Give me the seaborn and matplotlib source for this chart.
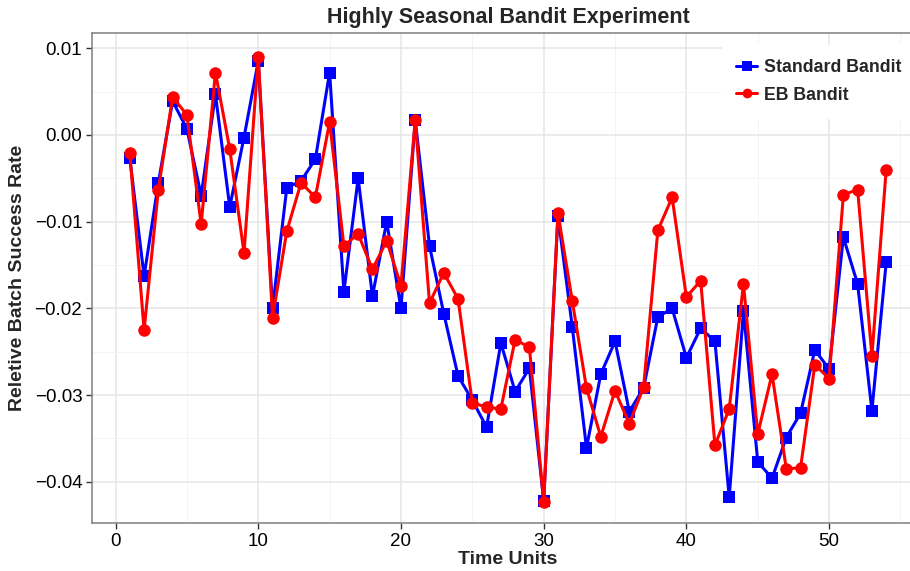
import numpy as np
import pandas as pd
import matplotlib
matplotlib.use("Agg")
import matplotlib.pyplot as plt
import seaborn as sns
from matplotlib.ticker import MultipleLocator, FuncFormatter

time_units = list(range(1, 55))
standard_bandit = [
    -0.0027, -0.0163, -0.0055, 0.0039, 0.0007, -0.0070, 0.0047, -0.0083, -0.0003, 0.0085,
    -0.0200, -0.0061, -0.0053, -0.0028, 0.0072, -0.0181, -0.0050, -0.0186, -0.0100, -0.0200,
    0.0017, -0.0128, -0.0206, -0.0278, -0.0306, -0.0337, -0.0240, -0.0296, -0.0269, -0.0422,
    -0.0093, -0.0221, -0.0361, -0.0276, -0.0238, -0.0319, -0.0292, -0.0210, -0.0200, -0.0257,
    -0.0223, -0.0238, -0.0418, -0.0203, -0.0377, -0.0396, -0.0349, -0.0321, -0.0248, -0.0270,
    -0.0118, -0.0172, -0.0318, -0.0147,
]
eb_bandit = [
    -0.0021, -0.0225, -0.0063, 0.0044, 0.0023, -0.0103, 0.0072, -0.0016, -0.0136, 0.0090,
    -0.0211, -0.0111, -0.0055, -0.0072, 0.0015, -0.0128, -0.0114, -0.0155, -0.0122, -0.0174,
    0.0017, -0.0194, -0.0159, -0.0189, -0.0309, -0.0314, -0.0316, -0.0236, -0.0245, -0.0423,
    -0.0090, -0.0191, -0.0292, -0.0348, -0.0295, -0.0333, -0.0291, -0.0110, -0.0072, -0.0187,
    -0.0168, -0.0358, -0.0316, -0.0172, -0.0345, -0.0276, -0.0385, -0.0384, -0.0265, -0.0281,
    -0.0069, -0.0063, -0.0255, -0.0040,
]

df = pd.DataFrame({
    "time": time_units * 2,
    "rate": standard_bandit + eb_bandit,
    "method": ["Standard Bandit"] * len(time_units) + ["EB Bandit"] * len(time_units),
})

sns.set_theme(style="white")
plt.rcParams["font.family"] = ["Liberation Sans", "DejaVu Sans"]

fig = plt.figure(figsize=(9.1, 5.71), dpi=100)
# panel runs past the right edge of the figure (cropped like the original)
ax = fig.add_axes([92 / 910, 48 / 571, 832 / 910, 490 / 571])

# gridlines like ggplot theme_bw
ax.xaxis.set_major_locator(MultipleLocator(10))
ax.xaxis.set_minor_locator(MultipleLocator(5))
ax.yaxis.set_major_locator(MultipleLocator(0.01))
ax.yaxis.set_minor_locator(MultipleLocator(0.005))
ax.grid(which="major", color="#E5E5E5", linewidth=1.1)
ax.grid(which="minor", color="#F2F2F2", linewidth=0.6)
ax.set_axisbelow(True)

sns.lineplot(data=df, x="time", y="rate", hue="method", style="method",
             markers={"Standard Bandit": "s", "EB Bandit": "o"}, dashes=False,
             palette={"Standard Bandit": "#0000FF", "EB Bandit": "#FF0000"},
             linewidth=2.2, markersize=9, markeredgewidth=0, ax=ax)

ax.set_xlim(-1.65, 56.65)
ax.set_ylim(-0.04476, 0.01176)

ax.yaxis.set_major_formatter(FuncFormatter(lambda v, p: f"{v:.2f}".replace("-", "\u2212") if abs(v) > 1e-9 else "0.00"))

for side in ["left", "bottom", "top", "right"]:
    ax.spines[side].set_color("#7F7F7F")
    ax.spines[side].set_linewidth(1.1)

ax.tick_params(axis="both", which="major", length=4, width=1, color="#333333",
               labelsize=13.5, labelcolor="black", bottom=True, left=True, direction="out", pad=3)
ax.tick_params(axis="both", which="minor", length=0)

ax.set_title("Highly Seasonal Bandit Experiment", fontsize=15.5, fontweight="bold", pad=7)
ax.set_xlabel("Time Units", fontsize=14, fontweight="bold", labelpad=1)
ax.set_ylabel("Reletive Batch Success Rate", fontsize=14, fontweight="bold", labelpad=6)

leg = ax.legend(loc="upper left", bbox_to_anchor=(727 / 910, 1 - 50 / 571),
                bbox_transform=fig.transFigure, frameon=True, handlelength=1.2,
                borderaxespad=0, borderpad=0.5, labelspacing=0.6, handletextpad=0.4,
                prop={"weight": "bold", "size": 12.8})
for h in leg.legend_handles:
    h.set_markersize(7)
leg.get_frame().set_facecolor("white")
leg.get_frame().set_edgecolor("white")
leg.get_frame().set_alpha(1)
leg.get_frame().set_boxstyle("square", pad=0.3)

fig.savefig("out.png", dpi=100)
